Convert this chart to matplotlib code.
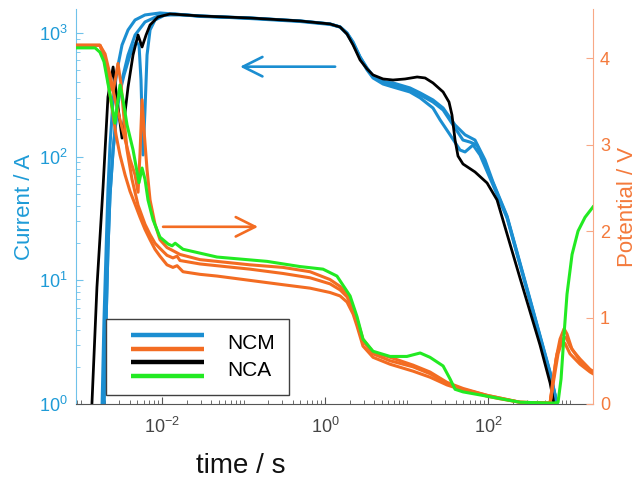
import matplotlib
matplotlib.use('Agg')
import matplotlib.pyplot as plt
from matplotlib.legend_handler import HandlerBase
from matplotlib.lines import Line2D
from matplotlib.ticker import LogLocator, FixedLocator, NullFormatter
import numpy as np

plt.rcParams['font.family'] = ['Liberation Sans', 'DejaVu Sans']
plt.rcParams['mathtext.fontset'] = 'custom'
plt.rcParams['mathtext.rm'] = 'Liberation Sans'
plt.rcParams['mathtext.it'] = 'Liberation Sans:italic'

# ---------------- data: current (A) vs time (s) ----------------
t_ncm1 = [1.79e-3, 1.84e-3, 1.94e-3, 2.06e-3, 2.17e-3, 2.30e-3, 2.51e-3, 2.81e-3, 3.23e-3, 3.83e-3,
          4.67e-3, 6.18e-3, 9.44e-3, 1.91e-2, 2.92e-2, 0.120, 0.493, 1.15, 1.53, 1.86, 2.21, 2.69,
          3.28, 3.88, 5.15, 6.82, 11.0, 14.7, 21.1, 28.1, 37.2, 49.3, 60.1, 73.3, 91.8, 115, 171,
          327, 577, 703, 743]
I_ncm1 = [0.74, 1.0, 4.78, 17.6, 53.7, 124, 287, 501, 798, 1056,
          1271, 1396, 1449, 1396, 1370, 1319, 1248, 1181, 1116, 998, 844, 638,
          520, 449, 408, 379, 345, 315, 276, 238, 180, 136, 131, 124, 86.1, 61.2, 32.5,
          6.93, 1.78, 1.0, 0.74]

t_ncm2 = [1.89e-3, 1.94e-3, 2.06e-3, 2.17e-3, 2.30e-3, 2.51e-3, 2.81e-3, 3.23e-3, 3.83e-3, 4.67e-3,
          6.18e-3, 8.93e-3, 1.45e-2, 1.91e-2, 2.92e-2, 0.120, 0.493, 1.15, 1.53, 1.86, 2.21, 2.69,
          3.28, 3.88, 5.15, 6.82, 11.0, 14.7, 21.1, 25.8, 34.2, 45.3, 52.2, 65.5, 79.8, 115, 171,
          327, 577, 703, 743]
I_ncm2 = [0.74, 1.0, 4.78, 17.6, 48.9, 113, 238, 416, 663, 961,
          1225, 1370, 1422, 1396, 1370, 1306, 1236, 1170, 1116, 979, 813, 626,
          501, 432, 386, 365, 333, 298, 247, 198, 150, 113, 109, 124, 103, 58.9, 31.9,
          6.8, 1.75, 1.0, 0.74]

t_ncm3 = [1.89e-3, 1.94e-3, 2.06e-3, 2.17e-3, 2.30e-3, 2.51e-3, 2.88e-3, 3.42e-3, 4.05e-3, 4.80e-3,
          5.22e-3, 5.52e-3, 5.85e-3, 6.18e-3, 6.55e-3, 7.13e-3, 8.20e-3, 1.09e-2, 1.91e-2,
          2.92e-2, 0.120, 0.493, 1.15, 1.53, 1.86, 2.21, 2.69, 3.28, 3.88, 5.15, 6.82, 11.0, 14.7,
          21.1, 28.1, 39.4, 52.2, 69.2, 91.8, 115, 171, 327, 577, 703, 743]
I_ncm3 = [0.74, 1.0, 4.78, 17.6, 48.9, 113, 287, 457, 663, 844,
          798, 416, 103, 238, 663, 1056, 1271, 1396, 1396,
          1358, 1319, 1248, 1181, 1116, 998, 829, 638, 511, 440, 401, 394, 359, 327,
          287, 247, 180, 150, 136, 94, 62.3, 33.1, 7.06, 1.81, 1.0, 0.74]

t_nca = [1.31e-3, 1.38e-3, 1.59e-3, 1.89e-3, 2.17e-3, 2.51e-3, 2.81e-3, 3.23e-3, 3.83e-3, 4.41e-3,
         5.08e-3, 5.69e-3, 6.37e-3, 7.13e-3, 8.93e-3, 1.25e-2, 1.91e-2, 2.92e-2, 0.120, 0.493,
         1.15, 1.53, 1.86, 2.21, 2.69, 3.28, 3.88, 5.15, 6.82, 9.59, 13.5, 16.9, 21.1, 28.1,
         33.2, 36.1, 39.4, 42.8, 49.3, 69.2, 97.3, 129, 247, 434, 577, 646, 682]
I_nca = [0.6, 1.0, 8.8, 56.8, 303, 530, 287, 141, 365, 663,
         961, 769, 961, 1159, 1345, 1422, 1396, 1370, 1319, 1248,
         1181, 1116, 979, 798, 604, 511, 457, 424, 416, 424, 440, 432, 394, 333,
         276, 217, 136, 101, 87.1, 75.1, 61.2, 44.6, 10.4, 3.0, 1.48, 1.0, 0.74]

# ---------------- data: potential (V) vs time (s) ----------------
t_ncm_a = [8.81e-4, 1.73e-3, 1.89e-3, 2.12e-3, 2.30e-3, 2.51e-3, 2.73e-3, 3.05e-3, 3.52e-3, 4.05e-3,
           4.67e-3, 5.37e-3, 6.18e-3, 7.13e-3, 8.20e-3, 9.44e-3, 1.15e-2, 1.36e-2, 1.53e-2, 1.81e-2,
           2.92e-2, 4.73e-2, 0.120, 0.305, 0.655, 1.15, 1.53, 1.86, 2.21, 2.47,
           2.92, 3.88, 6.28, 12.0, 19.4, 31.4, 49.3, 65.5, 97.3, 140,
           247, 577, 628, 703, 809, 906, 1014, 1346, 1786, 1941]
V_ncm_a = [4.15, 4.15, 4.07, 3.81, 3.58, 3.34, 3.11, 2.88, 2.65, 2.46,
           2.31, 2.16, 2.02, 1.90, 1.79, 1.71, 1.61, 1.58, 1.60, 1.53,
           1.50, 1.48, 1.43, 1.38, 1.34, 1.29, 1.25, 1.18, 1.04, 0.90,
           0.67, 0.54, 0.46, 0.38, 0.31, 0.22, 0.16, 0.14, 0.09, 0.06,
           0.02, 0.01, 0.29, 0.58, 0.75, 0.77, 0.67, 0.50, 0.38, 0.36]

t_ncm_b = [8.81e-4, 1.73e-3, 2.00e-3, 2.30e-3, 2.51e-3, 2.73e-3, 2.88e-3, 3.14e-3, 3.42e-3, 3.72e-3,
           4.28e-3, 5.08e-3, 6.18e-3, 7.13e-3, 8.20e-3, 9.44e-3, 1.15e-2, 1.36e-2, 1.53e-2, 1.66e-2,
           2.92e-2, 0.120, 0.305, 0.655, 1.15, 1.53, 1.86, 2.21, 2.47, 2.92,
           3.88, 6.28, 12.0, 19.4, 31.4, 49.3, 97.3, 247, 577, 610,
           682, 764, 857, 931, 1074, 1346, 1786, 1941]
V_ncm_b = [4.15, 4.15, 4.00, 3.70, 3.62, 3.80, 3.94, 3.70, 3.30, 2.94,
           2.60, 2.30, 2.08, 1.96, 1.86, 1.80, 1.72, 1.69, 1.71, 1.66,
           1.62, 1.56, 1.51, 1.46, 1.39, 1.32, 1.24, 1.10, 0.96, 0.73,
           0.58, 0.50, 0.43, 0.35, 0.24, 0.17, 0.10, 0.02, 0.01, 0.17,
           0.52, 0.75, 0.87, 0.81, 0.63, 0.52, 0.40, 0.38]

t_ncm_c = [8.81e-4, 1.73e-3, 2.00e-3, 2.30e-3, 2.65e-3, 3.05e-3, 3.52e-3, 4.05e-3, 4.67e-3, 5.08e-3,
           5.37e-3, 5.69e-3, 6.01e-3, 6.55e-3, 7.13e-3, 8.20e-3, 9.44e-3, 1.15e-2, 1.45e-2, 1.66e-2,
           2.92e-2, 0.120, 0.305, 0.655, 1.15, 1.53, 1.86, 2.21, 2.47, 2.92,
           3.88, 6.28, 12.0, 19.4, 31.4, 49.3, 97.3, 247, 577, 628,
           723, 809, 881, 1014, 1346, 1786, 1941]
V_ncm_c = [4.15, 4.15, 4.05, 3.81, 3.52, 3.29, 3.06, 2.83, 2.65, 2.45,
           2.90, 3.52, 3.17, 2.71, 2.36, 2.08, 1.90, 1.81, 1.76, 1.73,
           1.67, 1.61, 1.58, 1.53, 1.44, 1.36, 1.27, 1.12, 0.98, 0.75,
           0.60, 0.54, 0.45, 0.37, 0.25, 0.18, 0.10, 0.02, 0.01, 0.23,
           0.58, 0.73, 0.70, 0.58, 0.46, 0.37, 0.35]

t_nca_v = [8.81e-4, 1.51e-3, 1.73e-3, 1.94e-3, 2.30e-3, 2.65e-3, 2.88e-3, 3.05e-3, 3.32e-3, 3.72e-3,
           4.41e-3, 5.22e-3, 5.69e-3, 6.18e-3, 6.73e-3, 7.76e-3, 9.44e-3, 1.19e-2, 1.33e-2, 1.45e-2,
           1.81e-2, 4.73e-2, 0.194, 0.493, 0.944, 1.40, 2.03, 2.47, 2.92, 3.88,
           6.28, 10.1, 14.7, 19.4, 28.1, 34.2, 39.4, 49.3, 97.3, 247,
           628, 723, 787, 857, 931, 1074, 1271, 1549, 1941]
V_nca = [4.12, 4.12, 4.07, 3.96, 3.58, 3.25, 3.52, 3.69, 3.52, 3.23,
         2.94, 2.56, 2.73, 2.60, 2.36, 2.13, 1.93, 1.85, 1.83, 1.86,
         1.79, 1.70, 1.65, 1.59, 1.56, 1.48, 1.25, 1.01, 0.75, 0.61,
         0.55, 0.55, 0.59, 0.54, 0.44, 0.29, 0.17, 0.14, 0.09, 0.02,
         0.01, 0.02, 0.29, 0.81, 1.27, 1.73, 2.00, 2.16, 2.28]

x_ticks = [1e-2, 1e0, 1e2]
y_left_ticks = [1e0, 1e1, 1e2, 1e3]
y_right_ticks = [0, 1, 2, 3, 4]
legend_labels = ['NCM', 'NCA']

# ---------------- style ----------------
C_BLUE = '#1B8ED1'
C_ORANGE = '#F36C22'
C_GREEN = '#22EA22'
C_BLACK = '#000000'
C_LTXT = '#1E9BD7'
C_LSP = '#70C2EA'
C_RTXT = '#F47A3C'
C_RSP = '#F8A886'
LW = 2.2

fig = plt.figure(figsize=(6.4, 4.83), dpi=100)
ax = fig.add_axes([0.11875, 0.1636, 0.8078, 0.8178])
ax2 = ax.twinx()

for t, I in [(t_ncm1, I_ncm1), (t_ncm2, I_ncm2), (t_ncm3, I_ncm3)]:
    ax.plot(t, I, color=C_BLUE, lw=LW, solid_joinstyle='round')
ax.plot(t_nca, I_nca, color=C_BLACK, lw=LW * 0.9, solid_joinstyle='round')

for t, V in [(t_ncm_a, V_ncm_a), (t_ncm_b, V_ncm_b), (t_ncm_c, V_ncm_c)]:
    ax2.plot(t, V, color=C_ORANGE, lw=LW, solid_joinstyle='round')
ax2.plot(t_nca_v, V_nca, color=C_GREEN, lw=LW, solid_joinstyle='round')

ax.set_xscale('log')
ax.set_yscale('log')
ax.set_xlim(8.8e-4, 1.94e3)
ax.set_ylim(1.0, 1560)
ax2.set_ylim(0, 4.57)

ax.xaxis.set_major_locator(FixedLocator(x_ticks))
ax.xaxis.set_minor_locator(LogLocator(base=10, subs=np.arange(1, 10), numticks=100))
ax.xaxis.set_minor_formatter(NullFormatter())
ax.yaxis.set_major_locator(FixedLocator(y_left_ticks))
ax.yaxis.set_minor_locator(LogLocator(base=10, subs=np.arange(2, 10), numticks=100))
ax.yaxis.set_minor_formatter(NullFormatter())
ax2.yaxis.set_major_locator(FixedLocator(y_right_ticks))

for s in ['top', 'right']:
    ax.spines[s].set_visible(False)
for s in ['top', 'left', 'bottom']:
    ax2.spines[s].set_visible(False)
ax.spines['left'].set_color(C_LSP)
ax.spines['bottom'].set_color('#555555')
ax2.spines['right'].set_color(C_RSP)

ax.tick_params(axis='x', which='both', direction='in', colors='#555555', labelcolor='#444444',
               labelsize=13, pad=9)
ax.tick_params(axis='x', which='major', length=5)
ax.tick_params(axis='x', which='minor', length=3)
ax.tick_params(axis='y', which='both', direction='in', colors=C_LSP, labelcolor=C_LTXT,
               labelsize=13, pad=6)
ax.tick_params(axis='y', which='major', length=5)
ax.tick_params(axis='y', which='minor', length=3)
ax2.tick_params(axis='y', which='both', direction='in', colors=C_RSP, labelcolor=C_RTXT,
                labelsize=13, pad=5, length=5)

ax.set_ylabel('Current / A', color=C_LTXT, fontsize=16, labelpad=3)
ax2.set_ylabel('Potential / V', color=C_RTXT, fontsize=16, labelpad=5)
ax.set_xlabel('time / s', color='#111111', fontsize=20)
ax.xaxis.set_label_coords(0.318, -0.125)

# arrows
ax.annotate('', xy=(0.0906, 533), xytext=(1.33, 533),
            arrowprops=dict(arrowstyle='->', color=C_BLUE, lw=1.9, mutation_scale=35,
                            shrinkA=0, shrinkB=0))
ax2.annotate('', xy=(0.151, 2.05), xytext=(0.0103, 2.05),
             arrowprops=dict(arrowstyle='->', color=C_ORANGE, lw=1.9, mutation_scale=35,
                             shrinkA=0, shrinkB=0))


class Pair:
    def __init__(self, c1, c2):
        self.c1 = c1
        self.c2 = c2


class PairHandler(HandlerBase):
    def create_artists(self, legend, orig_handle, xdescent, ydescent, width, height,
                       fontsize, trans):
        arts = []
        x0 = -xdescent + 0.13 * width
        x1 = -xdescent + width
        for frac, c in ((1.0, orig_handle.c1), (0.0, orig_handle.c2)):
            y = -ydescent + frac * height
            ln = Line2D([x0, x1], [y, y], color=c, lw=3.2, solid_capstyle='butt')
            ln.set_transform(trans)
            arts.append(ln)
        return arts


handles = [Pair(C_BLUE, C_ORANGE), Pair(C_BLACK, C_GREEN)]
leg = ax2.legend(handles, legend_labels, handler_map={Pair: PairHandler()},
                 loc='lower left', bbox_to_anchor=(0.058, 0.023), borderaxespad=0,
                 fontsize=15, handlelength=4.0, handleheight=0.68, handletextpad=1.1,
                 labelspacing=0.4, borderpad=0.7, fancybox=False, framealpha=1,
                 edgecolor='#404040')
leg.get_frame().set_linewidth(1.0)

fig.savefig('out.png', dpi=100)
